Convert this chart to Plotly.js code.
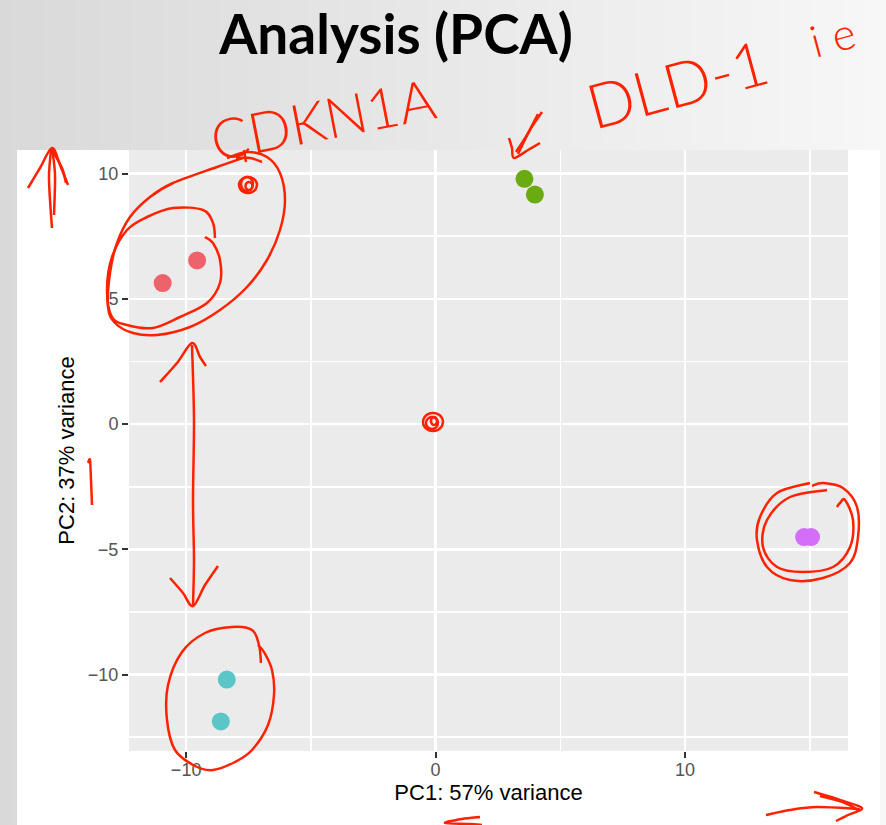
<!DOCTYPE html>
<html>
<head>
<meta charset="utf-8">
<script src="https://cdn.plot.ly/plotly-3.0.1.min.js"></script>
<style>
html,body{margin:0;padding:0;width:886px;height:825px;overflow:hidden;}
body{background:linear-gradient(to right,#d9d9d9,#f7f7f7);position:relative;}
#white{position:absolute;left:17px;top:150px;width:863px;height:675px;background:#ffffff;}
#chart{position:absolute;left:0;top:0;width:886px;height:825px;}
</style>
</head>
<body>
<div id="white"></div>
<div id="chart"></div>
<script>
// ---- data ----
const groupNames = ["group 1", "group 2", "group 3", "group 4"];
const groupColors = ["#EE626B", "#6AAB12", "#5BC6C8", "#D36EF8"];
const pc1_group1 = [-10.94, -9.56];
const pc2_group1 = [5.63, 6.53];
const pc1_group2 = [3.56, 3.98];
const pc2_group2 = [9.79, 9.16];
const pc1_group3 = [-8.37, -8.61];
const pc2_group3 = [-10.20, -11.87];
const pc1_group4 = [14.77, 15.05];
const pc2_group4 = [-4.51, -4.51];
const xTicks = [-10, 0, 10];
const xTickText = ["\u221210", "0", "10"];
const yTicks = [-10, -5, 0, 5, 10];
const yTickText = ["\u221210", "\u22125", "0", "5", "10"];
const xMinor = [-5, 5, 15];
const yMinor = [-12.5, -7.5, -2.5, 2.5, 7.5];

const xs = [pc1_group1, pc1_group2, pc1_group3, pc1_group4];
const ys = [pc2_group1, pc2_group2, pc2_group3, pc2_group4];

const traces = xs.map((x, i) => ({
  type: "scatter", mode: "markers", name: groupNames[i],
  x: x, y: ys[i],
  marker: {size: 18, color: groupColors[i], line: {width: 0}},
  hoverinfo: "skip"
}));

// ---- hand-drawn red annotations (decoration, in page pixels) ----
const ML = 129, MR = 38, MT = 150, MB = 74, W = 886, H = 825;
const PW = W - ML - MR, PH = H - MT - MB;
const X = px => ((px - ML) / PW).toFixed(5);
const Y = py => ((H - MB - py) / PH).toFixed(5);
function smooth(pts, closed) {
  const p = closed ? pts.concat([pts[0], pts[1], pts[2]]) : pts;
  const n = closed ? pts.length + 1 : pts.length;
  let d = "M" + X(p[0][0]) + "," + Y(p[0][1]);
  for (let i = 0; i < n - 1; i++) {
    const p0 = p[Math.max(i - 1, 0)], p1 = p[i], p2 = p[i + 1], p3 = p[Math.min(i + 2, p.length - 1)];
    const c1 = [p1[0] + (p2[0] - p0[0]) / 6, p1[1] + (p2[1] - p0[1]) / 6];
    const c2 = [p2[0] - (p3[0] - p1[0]) / 6, p2[1] - (p3[1] - p1[1]) / 6];
    d += " C" + X(c1[0]) + "," + Y(c1[1]) + " " + X(c2[0]) + "," + Y(c2[1]) + " " + X(p2[0]) + "," + Y(p2[1]);
  }
  return d;
}
function ellipse(cx, cy, rx, ry) {
  const pts = [];
  for (let k = 0; k < 12; k++) {
    const a = k / 12 * 2 * Math.PI;
    pts.push([cx + rx * Math.cos(a), cy + ry * Math.sin(a)]);
  }
  return smooth(pts, true);
}
const RED = "#FF2200";
const strokes = [
  // left up arrow
  smooth([[52,228],[50,200],[49,175],[51,150]]),
  smooth([[52,148],[55,175],[54,215]]),
  smooth([[28,188],[40,168],[52,148],[60,165],[68,185]]),
  smooth([[52,150],[62,168],[66,183]]),
  // scribble near top left
  ellipse(248,185,9,8), ellipse(247,184,6,7), ellipse(249,186,3.5,4),
  smooth([[236,158],[250,158],[262,162]]), smooth([[244,150],[246,162]]),
  // outer loop around red points
  smooth([[243,158],[217,167],[173,183],[150,197],[130,217],[117,243],[110,273],[108,307],[115,323],[133,333],[157,335],[190,327],[220,310],[247,287],[267,260],[280,230],[285,200],[280,173],[267,157],[247,152],[227,158]]),
  // inner loop around red points
  smooth([[215,238],[213,223],[203,210],[173,208],[147,217],[127,230],[112,257],[107,290],[112,317],[127,325],[153,328],[180,317],[207,303],[220,283],[220,260],[213,243],[205,237]]),
  // vertical double arrow
  smooth([[192,345],[194,420],[193,500],[194,560],[193,605]]),
  smooth([[160,382],[177,363],[192,343],[200,357],[206,366]]),
  smooth([[170,578],[183,593],[193,606],[205,585],[218,566]]),
  // red 1 on y title
  smooth([[88,463],[90,460],[91,480],[92,505]]),
  // scribble at origin
  ellipse(433,422,10,9), ellipse(432,423,6,6), ellipse(434,421,3,4),
  // arrow to green points
  smooth([[542,112],[530,130],[518,154]]),
  smooth([[538,114],[527,135],[516,152]]),
  smooth([[509,138],[512,148],[514,158],[528,150],[540,143]]),
  // cyan loop
  smooth([[261,663],[259,645],[252,630],[232,627],[205,633],[182,652],[168,685],[167,720],[175,750],[195,766],[213,770],[235,762],[252,750],[268,725],[274,695],[272,670],[264,652],[258,645]]),
  // magenta loops
  smooth([[810,483],[777,493],[760,517],[757,540],[767,567],[790,580],[823,578],[850,563],[858,537],[857,507],[843,488],[823,483],[812,486]]),
  smooth([[827,490],[790,497],[767,520],[763,547],[777,567],[803,572],[833,567],[850,547],[853,520],[845,500],[840,503],[837,507]]),
  // bottom-right arrow
  smooth([[766,815],[790,810],[817,807],[860,809]]),
  smooth([[814,792],[840,800],[862,808],[848,815],[836,821]]),
  smooth([[820,796],[845,803],[858,810]]),
  // small bottom arrow
  smooth([[480,817],[462,819],[445,823],[470,824],[482,825]])
];
const shapes = strokes.map(d => ({
  type: "path", xref: "paper", yref: "paper", path: d,
  line: {color: RED, width: 2.5}, layer: "above"
}));

const hand = (text, px, py, size, angle) => ({
  text: text, xref: "paper", yref: "paper", x: +X(px), y: +Y(py),
  xanchor: "center", yanchor: "middle", showarrow: false, textangle: angle,
  font: {family: "Lato, 'Liberation Sans', sans-serif", size: size, color: RED, weight: 300}
});

const layout = {
  width: W, height: H,
  margin: {l: ML, r: MR, t: MT, b: MB, pad: 0},
  paper_bgcolor: "rgba(0,0,0,0)",
  plot_bgcolor: "#EBEBEB",
  showlegend: false,
  title: {
    text: "Analysis (PCA)", xref: "container", yref: "container",
    x: 396 / W, xanchor: "center", y: 1 - 35 / H, yanchor: "middle",
    font: {family: "Lato, 'Liberation Sans', sans-serif", size: 55, color: "#000000", weight: 700}
  },
  xaxis: {
    range: [-12.29, 16.53], tickvals: xTicks, ticktext: xTickText,
    showgrid: true, gridcolor: "#FFFFFF", gridwidth: 2.6, zeroline: false, showline: false,
    ticks: "outside", ticklen: 6, tickwidth: 2, tickcolor: "#333333",
    ticklabelstandoff: -4,
    tickfont: {family: "'Liberation Sans', Arial, sans-serif", size: 18, color: "#555555"},
    minor: {tickvals: xMinor, showgrid: true, gridcolor: "#FFFFFF", gridwidth: 1.6, ticks: ""},
    title: {text: "PC1: 57% variance", standoff: 3,
      font: {family: "'Liberation Sans', Arial, sans-serif", size: 22, color: "#000000"}},
    fixedrange: true
  },
  yaxis: {
    range: [-13.05, 10.94], tickvals: yTicks, ticktext: yTickText,
    showgrid: true, gridcolor: "#FFFFFF", gridwidth: 2.6, zeroline: false, showline: false,
    ticks: "outside", ticklen: 6, tickwidth: 2, tickcolor: "#333333",
    tickfont: {family: "'Liberation Sans', Arial, sans-serif", size: 18, color: "#555555"},
    minor: {tickvals: yMinor, showgrid: true, gridcolor: "#FFFFFF", gridwidth: 1.6, ticks: ""},
    title: {text: "PC2: 37% variance", standoff: 7,
      font: {family: "'Liberation Sans', Arial, sans-serif", size: 22, color: "#000000"}},
    fixedrange: true
  },
  shapes: shapes,
  annotations: [
    hand("CDKN1A", 322, 118, 56, -11),
    hand("DLD-1", 677, 83, 62, -15),
    hand("i e", 832, 36, 44, -15)
  ]
};

Plotly.newPlot("chart", traces, layout, {displayModeBar: false, staticPlot: true});
</script>
</body>
</html>
